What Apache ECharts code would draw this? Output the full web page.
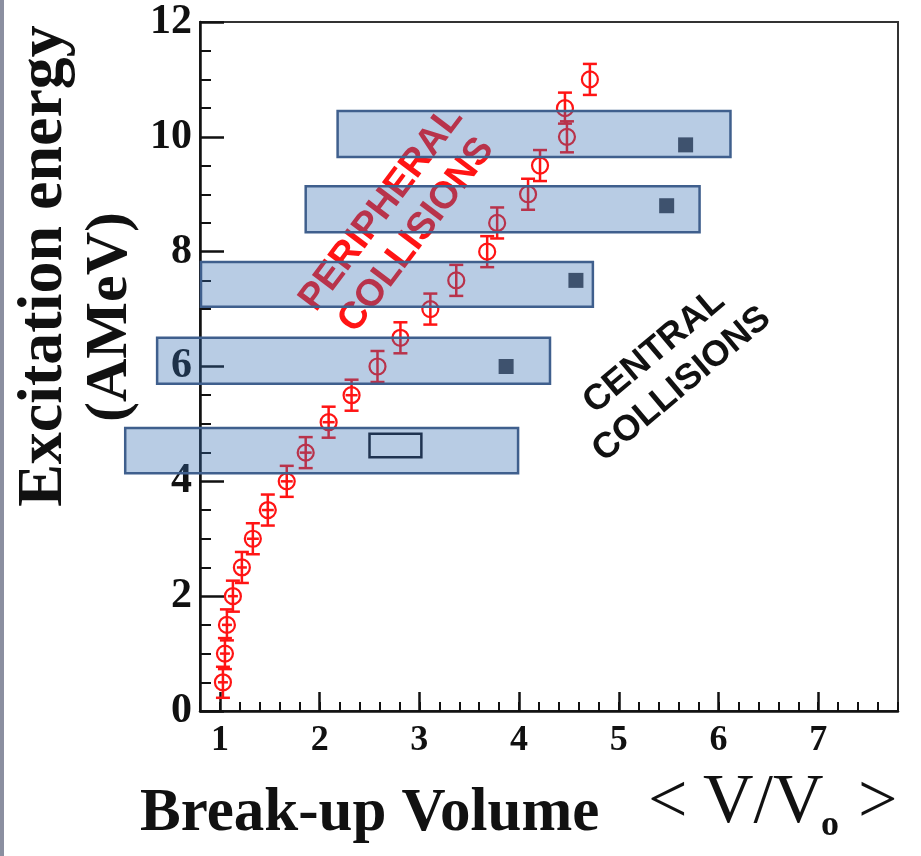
<!DOCTYPE html>
<html>
<head>
<meta charset="utf-8">
<script src="https://cdn.jsdelivr.net/npm/echarts@6/dist/echarts.min.js"></script>
<style>
html, body { margin: 0; padding: 0; background: #fff; }
#chart { width: 921px; height: 856px; }
</style>
</head>
<body>
<div id="chart"></div>
<script>
// red points: break-up volume <V/V0> vs excitation energy (AMeV)
var volume = [1.03, 1.05, 1.07, 1.13, 1.22, 1.33, 1.48, 1.67, 1.86, 2.09, 2.32, 2.58, 2.81, 3.11, 3.37, 3.68, 3.78, 4.09, 4.21, 4.48, 4.46, 4.71];
var energy = [0.5, 1.0, 1.5, 2.0, 2.5, 3.0, 3.5, 4.0, 4.5, 5.03, 5.5, 6.0, 6.5, 7.0, 7.5, 8.0, 8.5, 9.0, 9.5, 10.0, 10.5, 11.0];
var energyErr = [0.27, 0.27, 0.27, 0.27, 0.27, 0.27, 0.27, 0.27, 0.27, 0.27, 0.27, 0.27, 0.27, 0.27, 0.27, 0.27, 0.27, 0.27, 0.27, 0.27, 0.27, 0.27];
var volumeErr = [0.05, 0.05, 0.05, 0.05, 0.05, 0.06, 0.06, 0.06, 0.06, 0.06, 0.06, 0, 0, 0, 0, 0, 0, 0, 0, 0, 0, 0];

// blue bands (volume range x energy range)
var bandX0 = [0.05, 0.37, 0.81, 1.86, 2.18];
var bandX1 = [3.99, 4.31, 4.74, 5.81, 6.12];
var bandY0 = [4.14, 5.70, 7.04, 8.34, 9.65];
var bandY1 = [4.93, 6.50, 7.82, 9.14, 10.45];

// dark squares (central collisions)
var centralX = [3.87, 4.57, 5.48, 5.67];
var centralY = [6.0, 7.5, 8.8, 9.86];

// open rectangle: x0, x1, y0, y1
var openBox = [2.50, 3.02, 4.42, 4.83];

var xTickValues = [1, 2, 3, 4, 5, 6, 7];

var RED = '#ff1414';
var SERIF = '"Liberation Serif", "DejaVu Serif", serif';
var SANS = '"Liberation Sans", Arial, sans-serif';

var pointData = [];
for (var i = 0; i < volume.length; i++) {
	pointData.push([volume[i], energy[i], energyErr[i], volumeErr[i]]);
}
var bandData = [];
for (var i = 0; i < bandX0.length; i++) {
	bandData.push([bandX0[i], bandX1[i], bandY0[i], bandY1[i]]);
}
var centralData = [];
for (var i = 0; i < centralX.length; i++) {
	centralData.push([centralX[i], centralY[i]]);
}

function renderPoint(params, api) {
	var x = api.value(0), y = api.value(1), ey = api.value(2), ex = api.value(3);
	var c = api.coord([x, y]);
	var top = api.coord([x, y + ey]);
	var bot = api.coord([x, y - ey]);
	var cap = 7;
	var st = { stroke: RED, lineWidth: 2.5, fill: null };
	var children = [
		{ type: 'line', shape: { x1: c[0], y1: top[1], x2: c[0], y2: bot[1] }, style: st },
		{ type: 'line', shape: { x1: c[0] - cap, y1: top[1], x2: c[0] + cap, y2: top[1] }, style: st },
		{ type: 'line', shape: { x1: c[0] - cap, y1: bot[1], x2: c[0] + cap, y2: bot[1] }, style: st },
		{ type: 'circle', shape: { cx: c[0], cy: c[1], r: 8 }, style: { stroke: RED, lineWidth: 2.2, fill: 'rgba(255,255,255,0)' } }
	];
	if (ex > 0) {
		var l = api.coord([x - ex, y]), r = api.coord([x + ex, y]);
		children.push({ type: 'line', shape: { x1: l[0], y1: c[1], x2: r[0], y2: c[1] }, style: st });
	}
	return { type: 'group', children: children };
}

function renderBand(params, api) {
	var p0 = api.coord([api.value(0), api.value(3)]);
	var p1 = api.coord([api.value(1), api.value(2)]);
	return {
		type: 'rect',
		shape: { x: p0[0], y: p0[1], width: p1[0] - p0[0], height: p1[1] - p0[1] },
		style: { fill: 'rgba(52,109,178,0.35)', stroke: '#3f5f8d', lineWidth: 2.5 }
	};
}

function renderOpenBox(params, api) {
	var p0 = api.coord([api.value(0), api.value(3)]);
	var p1 = api.coord([api.value(1), api.value(2)]);
	return {
		type: 'rect',
		shape: { x: p0[0], y: p0[1], width: p1[0] - p0[0], height: p1[1] - p0[1] },
		style: { fill: null, stroke: '#1f3350', lineWidth: 2.5 }
	};
}

var option = {
	backgroundColor: '#fff',
	animation: false,
	grid: {
		left: 200, top: 22, right: 23, bottom: 145,
		show: true, borderColor: '#333', borderWidth: 2
	},
	xAxis: [{
		type: 'value', min: 0.8, max: 7.8,
		axisLine: { onZero: false, lineStyle: { color: '#111', width: 2.5 } },
		axisTick: { inside: true, length: 19, customValues: xTickValues, lineStyle: { color: '#111', width: 2.5 } },
		axisLabel: {
			customValues: xTickValues, margin: 12, color: '#111',
			fontFamily: SERIF, fontWeight: 'bold', fontSize: 36
		},
		splitLine: { show: false }
	}, {
		type: 'value', min: 0.8, max: 7.8, interval: 0.2, position: 'bottom',
		axisLine: { show: false },
		axisTick: { inside: true, length: 9, lineStyle: { color: '#111', width: 2 } },
		axisLabel: { show: false },
		splitLine: { show: false }
	}],
	yAxis: {
		type: 'value', min: 0, max: 12, interval: 2,
		axisLine: { onZero: false, lineStyle: { color: '#111', width: 2.5 } },
		axisTick: { inside: true, length: 24, lineStyle: { color: '#111', width: 2.5 } },
		minorTick: { show: true, splitNumber: 4, length: 11, lineStyle: { color: '#111', width: 2 } },
		axisLabel: {
			margin: 8, color: '#111',
			fontFamily: SERIF, fontWeight: 'bold', fontSize: 42
		},
		splitLine: { show: false }
	},
	graphic: [
		{ type: 'rect', shape: { x: 0, y: 0, width: 4, height: 856 }, style: { fill: '#8b8fa0' } },
		{
			type: 'text', x: 44, y: 266, rotation: Math.PI / 2, z: 1,
			style: { text: 'Excitation energy', font: 'bold 64px ' + SERIF, fill: '#111', align: 'center', verticalAlign: 'middle' }
		},
		{
			type: 'text', x: 110, y: 317, rotation: Math.PI / 2, z: 1,
			style: { text: '(AMeV)', font: 'bold 60px ' + SERIF, fill: '#111', align: 'center', verticalAlign: 'middle' }
		},
		{
			type: 'text', x: 140, y: 814, z: 1,
			style: { text: 'Break-up Volume', font: 'bold 61px ' + SERIF, fill: '#111', align: 'left', verticalAlign: 'middle' }
		},
		{
			type: 'text', x: 648, y: 804, z: 1,
			style: { text: '<', font: '70px ' + SERIF, fill: '#111', align: 'left', verticalAlign: 'middle' }
		},
		{
			type: 'text', x: 703, y: 804, z: 1,
			style: { text: 'V/V', font: '70px ' + SERIF, fill: '#111', align: 'left', verticalAlign: 'middle' }
		},
		{
			type: 'text', x: 821, y: 826, z: 1,
			style: { text: 'o', font: 'bold 36px ' + SERIF, fill: '#111', align: 'left', verticalAlign: 'middle' }
		},
		{
			type: 'text', x: 858, y: 804, z: 1,
			style: { text: '>', font: '70px ' + SERIF, fill: '#111', align: 'left', verticalAlign: 'middle' }
		},
		{
			type: 'text', x: 399, y: 222, rotation: 53 * Math.PI / 180, z: 1,
			style: { text: 'PERIPHERAL\nCOLLISIONS', font: 'bold 38px ' + SANS, fill: RED, align: 'center', verticalAlign: 'middle', lineHeight: 44 }
		},
		{
			type: 'text', x: 668, y: 368, rotation: 40 * Math.PI / 180, z: 1,
			style: { text: 'CENTRAL\nCOLLISIONS', font: 'bold 36px ' + SANS, fill: '#111', align: 'center', verticalAlign: 'middle', lineHeight: 43 }
		}
	],
	series: [{
		type: 'custom', name: 'data', xAxisIndex: 0, yAxisIndex: 0, z: 2,
		renderItem: renderPoint, data: pointData
	}, {
		type: 'custom', name: 'bands', xAxisIndex: 0, yAxisIndex: 0, z: 4, clip: false,
		renderItem: renderBand, data: bandData
	}, {
		type: 'custom', name: 'open', xAxisIndex: 0, yAxisIndex: 0, z: 5,
		renderItem: renderOpenBox, data: [openBox]
	}, {
		type: 'scatter', name: 'central', xAxisIndex: 0, yAxisIndex: 0, z: 6,
		symbol: 'rect', symbolSize: 15, itemStyle: { color: '#1f3350' },
		data: centralData
	}]
};

var myChart = echarts.init(document.getElementById('chart'));
myChart.setOption(option);
</script>
</body>
</html>
